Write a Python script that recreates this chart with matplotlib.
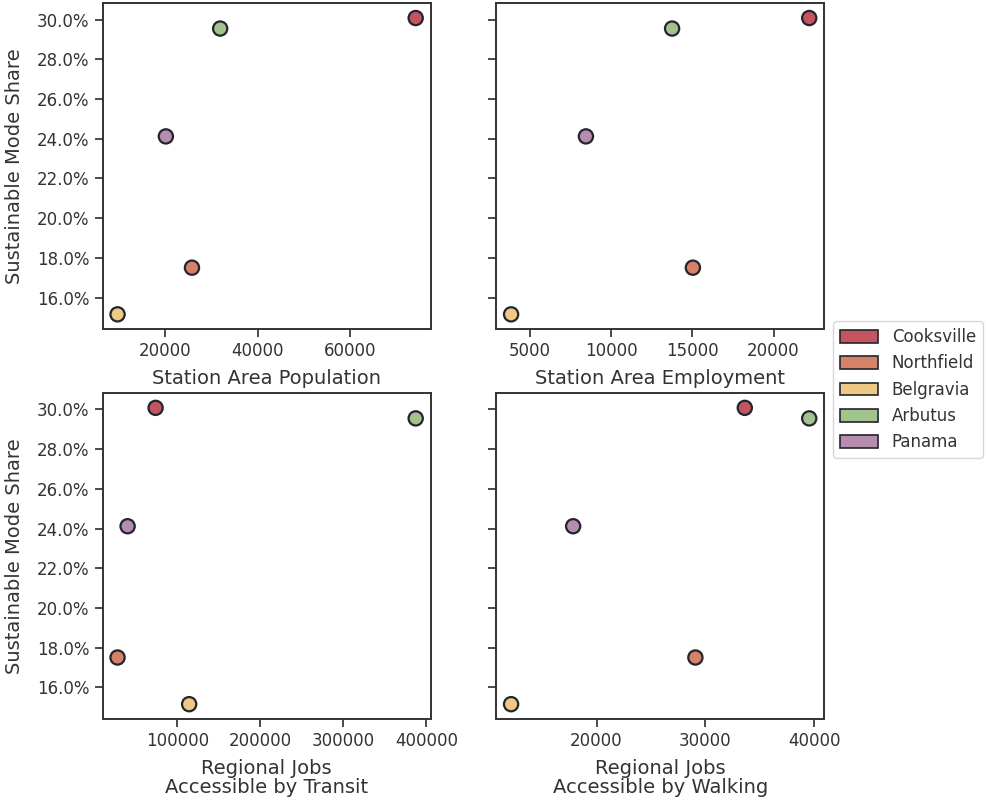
import matplotlib
matplotlib.use("Agg")
import matplotlib.pyplot as plt
import seaborn as sns
from matplotlib.patches import Patch
from matplotlib.ticker import PercentFormatter, MultipleLocator

stations = ["Cooksville", "Northfield", "Belgravia", "Arbutus", "Panama"]
colors = ["#c4545e", "#d58266", "#eec984", "#a2c28e", "#b48daf"]

mode_share = [0.3008, 0.1751, 0.1516, 0.2955, 0.2412]
population = [74200, 25800, 9700, 31900, 20150]
employment = [22200, 15030, 3830, 13750, 8440]
jobs_transit = [74000, 28200, 114400, 387100, 40300]
jobs_walking = [33620, 29080, 12150, 39540, 17850]

panels = [
    (population, "Station Area Population"),
    (employment, "Station Area Employment"),
    (jobs_transit, "Regional Jobs\nAccessible by Transit"),
    (jobs_walking, "Regional Jobs\nAccessible by Walking"),
]

sns.set_theme(style="ticks")
plt.rcParams["font.family"] = ["DejaVu Sans"]
plt.rcParams["text.color"] = "#333333"
plt.rcParams["axes.labelcolor"] = "#333333"
plt.rcParams["xtick.color"] = "#333333"
plt.rcParams["ytick.color"] = "#333333"
plt.rcParams["axes.edgecolor"] = "#333333"

fig, axes = plt.subplots(2, 2, figsize=(9.87, 8.02), dpi=100, sharey=True)
fig.subplots_adjust(left=0.104, right=0.835, top=0.996, bottom=0.1035,
                    wspace=0.2, hspace=0.196)

for ax, (xvals, label) in zip(axes.flat, panels):
    ax.scatter(xvals, mode_share, c=colors, s=105, edgecolors="#22252e",
               linewidths=1.6, zorder=3)
    ax.set_xlabel(label, fontsize=14, labelpad=6, linespacing=1.0)
    ax.tick_params(labelsize=12, length=6, width=1.25)
    for sp in ax.spines.values():
        sp.set_linewidth(1.4)

axes[1, 0].xaxis.set_major_locator(MultipleLocator(100000))
axes[1, 1].xaxis.set_major_locator(MultipleLocator(10000))
axes[0, 1].xaxis.set_major_locator(MultipleLocator(5000))
axes[0, 0].xaxis.set_major_locator(MultipleLocator(20000))

axes[0, 0].yaxis.set_major_locator(MultipleLocator(0.02))
axes[0, 0].yaxis.set_major_formatter(PercentFormatter(xmax=1, decimals=1))
for ax in axes[:, 0]:
    ax.set_ylabel("Sustainable Mode Share", fontsize=14, labelpad=9)

handles = [Patch(facecolor=c, edgecolor="#22252e", linewidth=1.2, label=s)
           for s, c in zip(stations, colors)]
fig.legend(handles=handles, loc="center left",
           bbox_to_anchor=(0.836, 0.514), fontsize=12, frameon=True,
           handlelength=2.3, handleheight=0.8, handletextpad=0.8)

fig.savefig("out.png", dpi=100)
